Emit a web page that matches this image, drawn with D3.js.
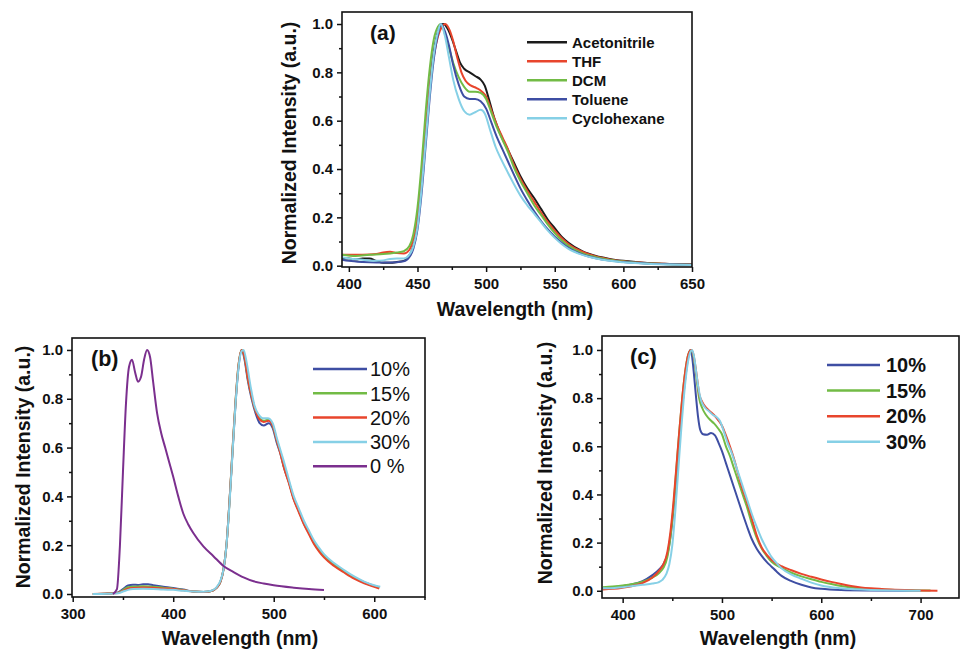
<!DOCTYPE html>
<html>
<head>
<meta charset="utf-8">
<script src="https://cdn.jsdelivr.net/npm/d3@7"></script>
<style>
  body { margin: 0; background: #fff; }
  svg { display: block; font-family: "Liberation Sans", Arial, sans-serif; }
</style>
</head>
<body>
<svg id="chart" width="960" height="650"></svg>
<script>
// ---- panel (a): solvents ----
const solventNames = ["Acetonitrile", "THF", "DCM", "Toluene", "Cyclohexane"]
const acetonitrile = [[395,0.03],[400,0.03],[405,0.026],[410,0.03],[415,0.03],[420,0.02],[425,0.012],[430,0.012],[435,0.015],[440,0.02],[443,0.035],[446,0.065],[449,0.13],[452,0.28],[455,0.48],[458,0.68],[461,0.85],[464,0.95],[467,0.995],[469,1.0],[472,0.98],[475,0.94],[478,0.89],[481,0.84],[484,0.815],[488,0.8],[492,0.785],[496,0.77],[499,0.745],[502,0.69],[506,0.61],[510,0.55],[515,0.49],[520,0.43],[525,0.37],[530,0.32],[535,0.28],[540,0.235],[545,0.19],[550,0.155],[555,0.12],[560,0.095],[570,0.06],[580,0.04],[590,0.028],[600,0.02],[615,0.012],[630,0.008],[650,0.005]]
const thf = [[395,0.045],[400,0.045],[410,0.045],[420,0.048],[425,0.055],[430,0.058],[435,0.052],[440,0.05],[444,0.065],[447,0.11],[450,0.2],[453,0.36],[456,0.56],[459,0.74],[462,0.87],[465,0.95],[468,0.99],[470,1.0],[473,0.98],[476,0.93],[479,0.86],[482,0.8],[485,0.765],[489,0.745],[493,0.735],[497,0.72],[500,0.7],[504,0.64],[508,0.58],[512,0.53],[516,0.48],[520,0.42],[525,0.36],[530,0.31],[535,0.265],[540,0.22],[545,0.18],[550,0.145],[555,0.115],[560,0.09],[570,0.058],[580,0.038],[590,0.026],[600,0.018],[620,0.01],[650,0.005]]
const dcm = [[395,0.045],[405,0.04],[415,0.045],[425,0.048],[435,0.055],[440,0.06],[444,0.08],[447,0.13],[450,0.24],[453,0.42],[456,0.64],[459,0.82],[462,0.94],[465,0.99],[467,1.0],[470,0.96],[473,0.9],[476,0.84],[480,0.78],[484,0.74],[488,0.72],[492,0.72],[496,0.715],[500,0.69],[504,0.63],[508,0.57],[512,0.52],[516,0.47],[520,0.41],[525,0.35],[530,0.3],[535,0.25],[540,0.21],[545,0.17],[550,0.135],[555,0.105],[560,0.082],[570,0.052],[580,0.035],[590,0.024],[600,0.017],[620,0.009],[650,0.004]]
const toluene = [[395,0.025],[400,0.02],[410,0.015],[420,0.013],[430,0.013],[440,0.018],[444,0.035],[447,0.07],[450,0.15],[453,0.3],[456,0.5],[459,0.7],[462,0.86],[465,0.96],[467,1.0],[470,0.97],[473,0.91],[476,0.83],[480,0.75],[484,0.7],[488,0.69],[492,0.69],[496,0.68],[500,0.65],[504,0.59],[508,0.53],[512,0.48],[516,0.43],[520,0.38],[525,0.32],[530,0.27],[535,0.225],[540,0.185],[545,0.15],[550,0.12],[555,0.095],[560,0.074],[570,0.047],[580,0.031],[590,0.021],[600,0.015],[620,0.008],[650,0.004]]
const cyclohexane = [[395,0.035],[400,0.03],[410,0.025],[420,0.02],[425,0.022],[430,0.028],[435,0.03],[440,0.03],[444,0.045],[447,0.08],[450,0.16],[453,0.32],[456,0.52],[459,0.72],[462,0.88],[465,0.97],[467,1.0],[470,0.95],[473,0.86],[476,0.77],[480,0.69],[484,0.64],[488,0.625],[492,0.635],[496,0.645],[499,0.63],[503,0.56],[507,0.49],[511,0.44],[515,0.395],[520,0.34],[525,0.29],[530,0.25],[535,0.215],[540,0.18],[545,0.145],[550,0.115],[555,0.09],[560,0.07],[570,0.045],[580,0.03],[590,0.02],[600,0.014],[620,0.007],[650,0.003]]

// ---- panel (b): doping ratio, with 0 % host ----
const ratioNamesB = ["10%", "15%", "20%", "30%", "0 %"]
const b10 = [[320,0.0],[335,0.002],[345,0.006],[350,0.02],[355,0.035],[360,0.038],[365,0.037],[370,0.04],[375,0.04],[380,0.036],[390,0.03],[400,0.025],[410,0.018],[420,0.01],[430,0.008],[438,0.012],[443,0.025],[447,0.05],[450,0.1],[453,0.2],[456,0.38],[459,0.58],[462,0.78],[465,0.93],[468,1.0],[471,0.96],[474,0.88],[478,0.8],[482,0.74],[486,0.7],[490,0.69],[495,0.7],[499,0.68],[503,0.62],[507,0.57],[510,0.52],[515,0.46],[520,0.39],[525,0.34],[530,0.29],[535,0.25],[540,0.21],[545,0.18],[550,0.155],[560,0.12],[570,0.093],[580,0.068],[590,0.048],[600,0.033],[605,0.027]]
const b15 = [[320,0.0],[335,0.002],[345,0.005],[350,0.016],[355,0.028],[360,0.03],[370,0.032],[380,0.03],[390,0.026],[400,0.022],[410,0.016],[420,0.01],[430,0.008],[438,0.012],[443,0.025],[447,0.05],[450,0.1],[453,0.2],[456,0.38],[459,0.59],[462,0.79],[465,0.94],[468,1.0],[471,0.97],[474,0.89],[478,0.81],[482,0.75],[486,0.72],[490,0.71],[495,0.715],[499,0.69],[503,0.63],[507,0.575],[510,0.525],[515,0.46],[520,0.39],[525,0.34],[530,0.29],[535,0.25],[540,0.21],[545,0.18],[550,0.155],[560,0.12],[570,0.092],[580,0.067],[590,0.047],[600,0.032],[605,0.026]]
const b20 = [[320,0.0],[335,0.002],[345,0.004],[350,0.013],[355,0.022],[360,0.025],[370,0.027],[380,0.026],[390,0.023],[400,0.02],[410,0.015],[420,0.01],[430,0.008],[438,0.012],[443,0.025],[447,0.05],[450,0.1],[453,0.2],[456,0.38],[459,0.59],[462,0.79],[465,0.94],[468,1.0],[471,0.97],[474,0.89],[478,0.81],[482,0.75],[486,0.715],[490,0.705],[495,0.71],[499,0.69],[503,0.63],[507,0.57],[510,0.52],[515,0.455],[520,0.385],[525,0.335],[530,0.285],[535,0.245],[540,0.205],[545,0.175],[550,0.15],[560,0.115],[570,0.088],[580,0.063],[590,0.044],[600,0.029],[605,0.022]]
const b30 = [[320,0.0],[335,0.001],[345,0.003],[350,0.01],[355,0.017],[360,0.02],[370,0.021],[380,0.02],[390,0.018],[400,0.017],[410,0.013],[420,0.01],[430,0.009],[438,0.013],[443,0.027],[447,0.055],[450,0.1],[453,0.2],[456,0.37],[459,0.58],[462,0.78],[465,0.93],[468,0.995],[470,1.0],[473,0.95],[477,0.85],[481,0.77],[485,0.735],[489,0.72],[494,0.72],[499,0.7],[503,0.64],[507,0.585],[511,0.53],[515,0.47],[520,0.4],[525,0.35],[530,0.3],[535,0.26],[540,0.22],[545,0.19],[550,0.163],[560,0.127],[570,0.098],[580,0.072],[590,0.051],[600,0.036],[606,0.03]]
const b0 = [[340,0.0],[344,0.02],[347,0.2],[350,0.5],[353,0.78],[356,0.93],[359,0.96],[362,0.91],[365,0.87],[368,0.89],[371,0.96],[374,1.0],[377,0.97],[380,0.87],[384,0.74],[388,0.66],[392,0.6],[396,0.54],[400,0.48],[405,0.4],[410,0.33],[415,0.285],[420,0.25],[430,0.195],[440,0.155],[450,0.115],[460,0.09],[470,0.068],[480,0.052],[490,0.043],[500,0.036],[520,0.026],[535,0.02],[550,0.016]]

// ---- panel (c): doping ratio ----
const ratioNamesC = ["10%", "15%", "20%", "30%"]
const c10 = [[380,0.012],[390,0.015],[400,0.02],[410,0.027],[420,0.04],[430,0.065],[437,0.09],[441,0.11],[445,0.15],[448,0.22],[451,0.33],[454,0.47],[457,0.62],[460,0.76],[463,0.88],[466,0.97],[468,1.0],[470,0.97],[472,0.89],[474,0.8],[476,0.72],[478,0.67],[481,0.65],[485,0.648],[489,0.655],[493,0.645],[497,0.61],[500,0.58],[504,0.53],[508,0.48],[512,0.43],[516,0.38],[520,0.33],[525,0.27],[530,0.215],[535,0.175],[540,0.145],[545,0.12],[550,0.1],[555,0.08],[560,0.062],[570,0.04],[580,0.025],[590,0.014],[600,0.008],[620,0.003],[650,0.001],[700,0.0]]
const c15 = [[380,0.015],[390,0.018],[400,0.022],[410,0.028],[420,0.038],[430,0.055],[437,0.075],[441,0.095],[445,0.14],[448,0.22],[451,0.34],[454,0.5],[457,0.66],[460,0.8],[463,0.91],[466,0.98],[469,1.0],[471,0.98],[473,0.93],[475,0.86],[477,0.8],[480,0.76],[484,0.73],[488,0.71],[492,0.695],[496,0.675],[500,0.65],[504,0.6],[508,0.56],[512,0.51],[516,0.46],[520,0.41],[525,0.35],[530,0.28],[535,0.22],[540,0.175],[545,0.145],[550,0.12],[560,0.095],[570,0.075],[580,0.06],[590,0.048],[600,0.037],[610,0.028],[620,0.02],[630,0.014],[640,0.01],[660,0.005],[680,0.003],[710,0.001]]
const c20 = [[380,0.005],[390,0.008],[400,0.013],[410,0.02],[420,0.032],[430,0.055],[437,0.085],[441,0.11],[445,0.16],[448,0.24],[451,0.36],[454,0.51],[457,0.66],[460,0.8],[463,0.91],[466,0.98],[469,1.0],[471,0.985],[473,0.94],[475,0.88],[477,0.82],[480,0.785],[484,0.76],[488,0.745],[492,0.73],[496,0.71],[500,0.685],[504,0.645],[508,0.6],[512,0.55],[516,0.49],[520,0.43],[525,0.37],[530,0.3],[535,0.23],[540,0.18],[545,0.15],[550,0.128],[560,0.102],[570,0.085],[580,0.07],[590,0.058],[600,0.047],[610,0.037],[620,0.028],[630,0.02],[640,0.014],[650,0.01],[670,0.005],[690,0.002],[717,0.0]]
const c30 = [[380,0.01],[400,0.015],[410,0.02],[420,0.025],[430,0.03],[436,0.035],[440,0.045],[444,0.07],[447,0.11],[450,0.19],[453,0.33],[456,0.5],[459,0.67],[462,0.82],[465,0.93],[468,0.99],[470,1.0],[472,0.97],[474,0.91],[476,0.85],[479,0.79],[483,0.76],[487,0.745],[491,0.73],[495,0.72],[498,0.705],[502,0.66],[506,0.61],[510,0.57],[514,0.52],[518,0.47],[522,0.42],[526,0.37],[530,0.32],[535,0.265],[540,0.215],[545,0.175],[550,0.14],[555,0.115],[560,0.093],[570,0.067],[580,0.05],[590,0.034],[600,0.022],[620,0.01],[650,0.003],[700,0.0]]

const yTicks = [0, 0.2, 0.4, 0.6, 0.8, 1.0]

const BLACK = "#1b1b1b", RED = "#e8452c", GREEN = "#72bb45", BLUE = "#3e4ea3", CYAN = "#86d0e6", PURPLE = "#7b2f8e"

const svg = d3.select("#chart")

const drawPanel = function (cfg) {
    const x = d3.scaleLinear().domain(cfg.xDomain).range([cfg.left, cfg.right])
    const y = d3.scaleLinear().domain(cfg.yDomain).range([cfg.bottom, cfg.top])
    const g = svg.append("g")

    // minor ticks
    g.append("g")
        .attr("transform", `translate(0,${cfg.bottom})`)
        .call(d3.axisBottom(x).tickValues(cfg.xMinor).tickSize(3).tickFormat(""))
    g.append("g")
        .attr("transform", `translate(${cfg.left},0)`)
        .call(d3.axisLeft(y).tickValues(d3.range(0.1, 1.0, 0.2)).tickSize(3).tickFormat(""))

    // major ticks
    g.append("g")
        .attr("class", "tick-axis")
        .attr("transform", `translate(0,${cfg.bottom})`)
        .call(d3.axisBottom(x).tickValues(cfg.xTicks).tickSize(5).tickPadding(6).tickFormat(d3.format("d")))
    g.append("g")
        .attr("class", "tick-axis")
        .attr("transform", `translate(${cfg.left},0)`)
        .call(d3.axisLeft(y).tickValues(yTicks).tickSize(5).tickPadding(4).tickFormat(d3.format(".1f")))

    g.selectAll(".domain").remove()
    g.selectAll(".tick line").attr("stroke", "#111").attr("stroke-width", 1.5)
    g.selectAll(".tick-axis text")
        .attr("fill", "#111")
        .style("font-size", "15px")
        .style("font-weight", "bold")

    // curves
    const line = d3.line()
        .x(d => x(d[0]))
        .y(d => y(d[1]))
        .curve(d3.curveMonotoneX)

    cfg.series.forEach(s => {
        g.append("path")
            .datum(s.data)
            .attr("fill", "none")
            .attr("stroke", s.color)
            .attr("stroke-width", 2)
            .attr("stroke-linejoin", "round")
            .attr("d", line)
    })

    // frame
    g.append("rect")
        .attr("x", cfg.left)
        .attr("y", cfg.top)
        .attr("width", cfg.right - cfg.left)
        .attr("height", cfg.bottom - cfg.top)
        .attr("fill", "none")
        .attr("stroke", "#111")
        .attr("stroke-width", 1.6)

    // panel letter
    g.append("text")
        .attr("x", cfg.tagX)
        .attr("y", cfg.tagY)
        .attr("font-size", cfg.tagSize)
        .attr("font-weight", "bold")
        .attr("fill", "#111")
        .text(cfg.tag)

    // legend
    const leg = cfg.legend
    cfg.series.forEach((s, i) => {
        const ly = leg.y + i * leg.step
        g.append("line")
            .attr("x1", leg.x1).attr("x2", leg.x2)
            .attr("y1", ly).attr("y2", ly)
            .attr("stroke", s.color)
            .attr("stroke-width", 2.5)
        g.append("text")
            .attr("x", leg.tx)
            .attr("y", ly)
            .attr("dy", "0.36em")
            .attr("font-size", leg.size)
            .attr("font-weight", leg.weight)
            .attr("fill", "#111")
            .text(s.name)
    })

    // axis titles
    g.append("text")
        .attr("x", cfg.xTitle[0])
        .attr("y", cfg.xTitle[1])
        .attr("text-anchor", "middle")
        .attr("font-size", "19.5px")
        .attr("font-weight", "bold")
        .attr("fill", "#111")
        .text("Wavelength (nm)")
    g.append("text")
        .attr("transform", `translate(${cfg.yTitle[0]},${cfg.yTitle[1]}) rotate(-90)`)
        .attr("text-anchor", "middle")
        .attr("dy", "0.36em")
        .attr("font-size", "19.5px")
        .attr("font-weight", "bold")
        .attr("fill", "#111")
        .text("Normalized Intensity (a.u.)")
}

drawPanel({
    left: 342, right: 692, top: 12, bottom: 267,
    xDomain: [395, 650], yDomain: [-0.0054, 1.0497],
    xTicks: [400, 450, 500, 550, 600, 650], xMinor: [425, 475, 525, 575, 625],
    series: [acetonitrile, thf, dcm, toluene, cyclohexane].map((d, i) => ({
        name: solventNames[i], data: d, color: [BLACK, RED, GREEN, BLUE, CYAN][i]
    })),
    tag: "(a)", tagX: 370, tagY: 40, tagSize: "21px",
    legend: { x1: 527, x2: 567, tx: 572, y: 42.3, step: 19, size: "15px", weight: "bold" },
    xTitle: [515, 316], yTitle: [289, 143]
})

drawPanel({
    left: 72, right: 425, top: 338, bottom: 597,
    xDomain: [299.3, 650.5], yDomain: [-0.0123, 1.049],
    xTicks: [300, 400, 500, 600], xMinor: [350, 450, 550, 650],
    series: [b10, b15, b20, b30, b0].map((d, i) => ({
        name: ratioNamesB[i], data: d, color: [BLUE, GREEN, RED, CYAN, PURPLE][i]
    })),
    tag: "(b)", tagX: 91, tagY: 366, tagSize: "21.5px",
    legend: { x1: 313, x2: 367, tx: 370, y: 369, step: 24.3, size: "20px", weight: "normal" },
    xTitle: [240, 645], yTitle: [22.5, 467]
})

drawPanel({
    left: 602, right: 959, top: 336, bottom: 598,
    xDomain: [379.2, 738.7], yDomain: [-0.03, 1.058],
    xTicks: [400, 500, 600, 700], xMinor: [450, 550, 650],
    series: [c10, c15, c20, c30].map((d, i) => ({
        name: ratioNamesC[i], data: d, color: [BLUE, GREEN, RED, CYAN][i]
    })),
    tag: "(c)", tagX: 630, tagY: 364, tagSize: "22px",
    legend: { x1: 827, x2: 880, tx: 886, y: 365, step: 25.6, size: "20px", weight: "bold" },
    xTitle: [778, 645], yTitle: [545, 463]
})
</script>
</body>
</html>
